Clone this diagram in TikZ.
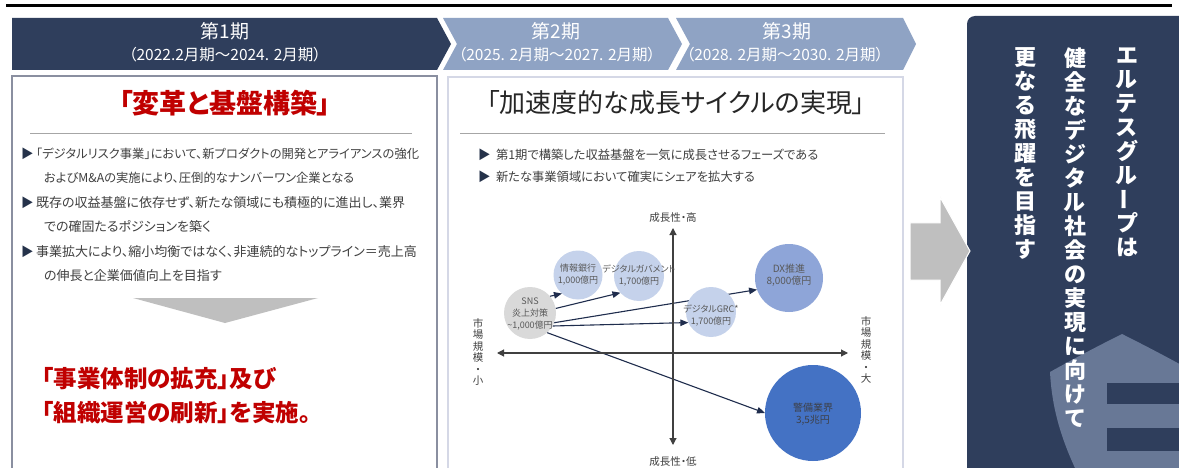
\documentclass[tikz,border=0pt]{standalone}
\usepackage{fontspec}
\usepackage{graphicx}
\setmainfont{Noto Sans CJK JP}[RawFeature=+palt]
\usetikzlibrary{arrows.meta}
\definecolor{navy}{HTML}{2F3E5C}
\definecolor{chev}{HTML}{8FA3C4}
\definecolor{redt}{HTML}{C00000}
\definecolor{txt}{HTML}{404040}
\definecolor{ttl}{HTML}{262626}
\definecolor{panelA}{HTML}{8A8FA0}
\definecolor{panelB}{HTML}{D5D8E6}
\definecolor{hr}{HTML}{A6A6A6}
\definecolor{arrgray}{HTML}{BFBFBF}
\definecolor{cgray}{HTML}{D9D9D9}
\definecolor{clight}{HTML}{C5D2EB}
\definecolor{cmid}{HTML}{8EA5D8}
\definecolor{cdark}{HTML}{4472C4}
\definecolor{shieldc}{HTML}{687896}
\definecolor{arrnavy}{HTML}{1F2D4D}
\definecolor{ctext}{HTML}{595959}
\pgfdeclarelayer{back}
\pgfdeclarelayer{links}
\pgfsetlayers{back,links,main}
\newcommand{\vchoon}{\smash{\raisebox{0.15em}{\rotatebox[origin=c]{90}{ー}}}}
\begin{document}
\begin{tikzpicture}[x=1pt,y=-1pt,
  every node/.style={inner sep=0pt,outer sep=0pt},
  chevtxt/.style={text=white,align=center},
  hdr/.style={chevtxt,font=\fontsize{19}{22}\selectfont},
  dates/.style={chevtxt,font=\fontsize{15.5}{18}\selectfont},
  bul/.style={anchor=west,text=txt,font=\fontsize{13}{15}\selectfont},
  bulkana/.style={anchor=west,text=txt,font=\fontsize{12.3}{15}\selectfont},
  tri/.style={anchor=west,text=navy!80!black,font=\fontsize{12.5}{14}\selectfont},
  bubble/.style={circle,inner sep=0pt,minimum size=#1},
  blabel/.style={align=center,text=ctext,font=\fontsize{9}{12}\selectfont},
  bigblabel/.style={align=center,text=ctext,font=\fontsize{10}{12.5}\selectfont},
  axlabel/.style={text=txt,font=\fontsize{10.5}{12}\selectfont},
  vlabel/.style={text=txt,align=center,font=\fontsize{10.5}{11.5}\selectfont},
  axisline/.style={draw=txt,line width=1.1pt,{Triangle[length=7pt,width=7pt]}-{Triangle[length=7pt,width=7pt]}},
  link/.style={draw=arrnavy,line width=1.1pt,-{Triangle[length=8pt,width=6.5pt]}},
  vtxt/.style={text=white,align=center,anchor=north,font=\fontsize{22}{24}\selectfont\bfseries},
  redline/.style={anchor=west,text=redt,font=\fontsize{23.5}{28}\selectfont\bfseries},
]
\useasboundingbox (0,0) rectangle (1179,468);
\begin{pgfonlayer}{back}
\fill[white] (0,0) rectangle (1179,468);
\end{pgfonlayer}

% top rule
\draw[line width=3pt] (6,5.5) -- (1172,5.5);

% chevrons
\fill[navy] (12,18) -- (437,18) -- (451,44) -- (437,70) -- (12,70) -- cycle;
\fill[chev] (443,18) -- (668,18) -- (682,44) -- (668,70) -- (443,70) -- (457,44) -- cycle;
\fill[chev] (676,18) -- (903,18) -- (916,44) -- (903,70) -- (676,70) -- (690,44) -- cycle;
\node[hdr] (h1) at (225,31) {第1期};
\node[dates] (d1) at (225,55) {（2022.2月期～2024. 2月期）};
\node[hdr] (h2) at (556,31) {第2期};
\node[dates] (d2) at (557,55) {（2025. 2月期～2027. 2月期）};
\node[hdr] (h3) at (787,31) {第3期};
\node[dates] (d3) at (785,55) {（2028. 2月期～2030. 2月期）};

% panels
\draw[panelA,line width=1.5pt] (12,76) rectangle (437,490);
\draw[panelB,line width=1.2pt] (448,77) rectangle (903,490);

% panel 1
\node[text=redt,font=\fontsize{27}{32}\selectfont\bfseries] (t1) at (225,103) {「変革と基盤構築」};
\draw[hr,line width=0.8pt] (30,133) -- (412,133);
\node[tri] (m1) at (21,154) {▶};
\node[bulkana] (l1) at (36,154) {「デジタルリスク事業」において、新プロダクトの開発とアライアンスの強化};
\node[bulkana] (l2) at (44,178) {およびM\&Aの実施により、圧倒的なナンバーワン企業となる};
\node[tri] (m2) at (21,203) {▶};
\node[bul] (l3) at (36,203) {既存の収益基盤に依存せず、新たな領域にも積極的に進出し、業界};
\node[bul] (l4) at (44,227) {での確固たるポジションを築く};
\node[tri] (m3) at (21,252) {▶};
\node[bul] (l5) at (36,252) {事業拡大により、縮小均衡ではなく、非連続的なトップライン＝売上高};
\node[bul] (l6) at (44,276) {の伸長と企業価値向上を目指す};
\fill[arrgray] (133,298) -- (318,298) -- (225,323) -- cycle;
\node[redline] (r1) at (42,379) {「事業体制の拡充」及び};
\node[redline] (r2) at (42,413) {「組織運営の刷新」を実施。};

% panel 2
\node[text=ttl,font=\fontsize{26}{30}\selectfont] (t2) at (676,103) {「加速度的な成長サイクルの実現」};
\draw[hr,line width=0.8pt] (460,133) -- (885,133);
\node[tri] (m4) at (478,155) {▶};
\node[bulkana] (k1) at (496,155) {第1期で構築した収益基盤を一気に成長させるフェーズである};
\node[tri] (m5) at (478,177) {▶};
\node[bulkana] (k2) at (496,177) {新たな事業領域において確実にシェアを拡大する};

% chart axes
\coordinate (yt) at (673,228);
\coordinate (yb) at (673,445);
\coordinate (xl) at (497,353);
\coordinate (xr) at (848,353);
\draw[axisline] (yb) -- (yt);
\draw[axisline] (xl) -- (xr);
\node[axlabel] (ghigh) at (673,218) {成長性・高};
\node[axlabel] (glow) at (673,462) {成長性・低};
\node[vlabel] (msmall) at (478,352) {市\\場\\規\\模\\・\\小};
\node[vlabel] (mlarge) at (866,350) {市\\場\\規\\模\\・\\大};

% bubbles
\node[bubble=52,fill=cgray] (sns) at (530,313) {};
\node[bubble=49,fill=clight] (bank) at (578,275) {};
\node[bubble=50,fill=clight] (gov) at (639,276) {};
\node[bubble=50,fill=clight] (grc) at (711,312) {};
\node[bubble=68,fill=cmid] (dx) at (789,278) {};
\node[bubble=96,fill=cdark] (kei) at (813,413) {};
\node[blabel] (snsl) at (530,314) {SNS\\炎上対策\\\textasciitilde1,000億円};
\node[blabel] (bankl) at (578,275) {情報銀行\\1,000億円};
\node[blabel] (govl) at (639,276) {デジタルガバメント\\1,700億円};
\node[blabel] (grcl) at (711,316) {デジタルGRC*\\1,700億円};
\node[bigblabel] (dxl) at (789,275) {DX推進\\8,000億円};
\node[bigblabel,text=txt!80!navy] (keil) at (813,414) {警備業界\\3,5兆円};

\begin{pgfonlayer}{links}
\draw[link] (sns.40) -- (bank.229);
\draw[link] (sns.10) -- (gov.222);
\draw[link] (sns.-22) -- (dx.200);
\draw[link] (sns.-30) -- (grc.205);
\draw[link] (sns.-49) -- (kei.180);
\end{pgfonlayer}

% right panel
\fill[navy,rounded corners=8pt] (967,16) rectangle (1200,490);
\fill[shieldc] (1050,372) .. controls (1075,358) and (1100,345) .. (1122,334)
  .. controls (1144,345) and (1169,358) .. (1194,372) -- (1194,490) -- (1086,490)
  .. controls (1062,445) and (1052,410) .. (1050,372) -- cycle;
\fill[navy] (1107,383) rectangle (1195,404);
\fill[navy] (1107,428) rectangle (1195,451);
\filldraw[fill=arrgray,draw=white,line width=1pt] (910,223) -- (940,223) -- (940,197) -- (970,251) -- (940,305) -- (940,280) -- (910,280) -- cycle;
\node[vtxt] (v1) at (1127,48) {エ\\ル\\テ\\ス\\グ\\ル\\\vchoon\\プ\\は};
\node[vtxt] (v2) at (1075,48) {健\\全\\な\\デ\\ジ\\タ\\ル\\社\\会\\の\\実\\現\\に\\向\\け\\て};
\node[vtxt] (v3) at (1025,48) {更\\な\\る\\飛\\躍\\を\\目\\指\\す};
\end{tikzpicture}
\end{document}
